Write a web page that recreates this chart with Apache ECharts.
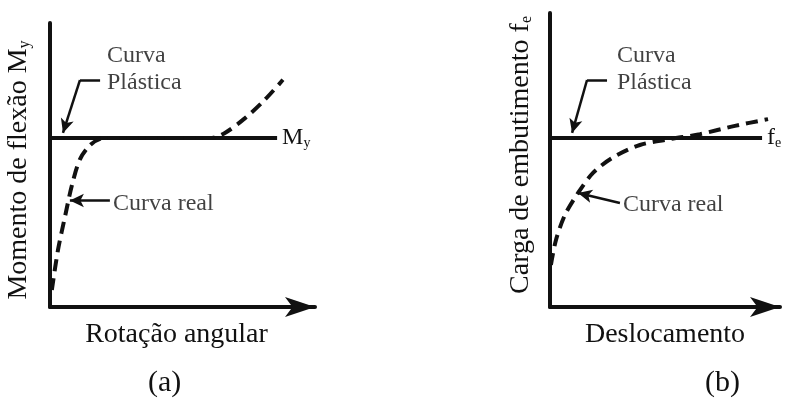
<!DOCTYPE html>
<html>
<head>
<meta charset="utf-8"/>
<title>Curva plástica x curva real</title>
<script src="https://cdn.jsdelivr.net/npm/echarts@6/dist/echarts.min.js"></script>
<style>
	body{ margin:0; padding:0; background:#fff; }
	#chart{ width:794px; height:400px; }
</style>
</head>
<body>
<div id="chart"></div>
<script type="text/javascript">
	// (a) momento x rotação
	var a_real_x = [0.7, 3.0, 5.7, 8.3, 11.3, 15.1, 18.9, 22.6, 60.4, 66.0, 73.6, 81.1, 87.9];
	var a_real_y = [6, 20, 32, 43, 52, 57, 59.2, 59.5, 59.5, 61.3, 66.5, 73, 80];
	var a_plast_x = [0, 85.7];
	var a_plast_y = [59.5, 59.5];

	// (b) carga x deslocamento
	var b_real_x = [0.4, 2.6, 6.5, 12.2, 18.7, 27.0, 39.1, 52.2, 65.2, 80.4, 94.8];
	var b_real_y = [14.3, 22.8, 31.3, 38.8, 45.6, 50.7, 55.1, 57.1, 58.8, 61.6, 63.9];
	var b_plast_x = [0, 92.2];
	var b_plast_y = [57.5, 57.5];

	// textos
	var titles = ['(a)', '(b)'];
	var x_names = ['Rotação angular', 'Deslocamento'];
	var y_names = ['Momento de flexão M{s|y}', 'Carga de embutimento f{s|e}'];
	var end_names = ['M{s|y}', 'f{s|e}'];

	var font = 'Liberation Serif';
	var ink = '#111';

	function pairs(xs, ys){
		var out = [];
		for(var i=0;i<xs.length;i++){
			out.push([xs[i], ys[i]]);
		}
		return out;
	}

	function xAxisOf(idx, name, pad){
		return {
			type:'value', gridIndex:idx, min:0, max:100,
			name:name, nameLocation:'middle', nameGap:14,
			nameTextStyle:{ fontFamily:font, fontSize:28, color:ink, verticalAlign:'top', padding:pad },
			axisLine:{ show:true, onZero:false, symbol:['none','arrow'], symbolSize:[15,30], lineStyle:{ color:ink, width:4 } },
			axisTick:{ show:false }, axisLabel:{ show:false }, splitLine:{ show:false }
		};
	}
	function yAxisOf(idx, name, gap, pad){
		return {
			type:'value', gridIndex:idx, min:0, max:100,
			name:name, nameLocation:'middle', nameGap:gap,
			nameTextStyle:{ fontFamily:font, fontSize:28, color:ink, padding:pad,
				rich:{ s:{ fontFamily:font, fontSize:16, color:ink, verticalAlign:'bottom' } } },
			axisLine:{ show:true, onZero:false, lineStyle:{ color:ink, width:4 } },
			axisTick:{ show:false }, axisLabel:{ show:false }, splitLine:{ show:false }
		};
	}

	// linha cheia (curva plástica)
	function plastSeries(idx, xs, ys, endName){
		return {
			type:'line', xAxisIndex:idx, yAxisIndex:idx, data:pairs(xs, ys),
			showSymbol:false, silent:true, animation:false,
			lineStyle:{ color:ink, width:4 },
			endLabel:{ show:true, formatter:endName, distance:5, fontFamily:font, fontSize:24, color:ink,
				rich:{ s:{ fontFamily:font, fontSize:14, color:ink, verticalAlign:'bottom' } } }
		};
	}
	// linha tracejada (curva real)
	function realSeries(idx, xs, ys){
		return {
			type:'line', xAxisIndex:idx, yAxisIndex:idx, data:pairs(xs, ys),
			showSymbol:false, silent:true, animation:false, smooth:0.3,
			lineStyle:{ color:ink, width:4, type:[12,7] }
		};
	}
	// textos e setas de anotação
	function noteSeries(idx, notes, arrows){
		var data = [];
		for(var i=0;i<notes.length;i++){
			data.push({ value:[notes[i][0], notes[i][1]], label:{ formatter:notes[i][2] } });
		}
		var lines = [];
		for(var j=0;j<arrows.length;j++){
			var a = arrows[j];
			lines.push([
				{ coord:[a[0], a[1]], symbol:'none' },
				{ coord:[a[2], a[3]], symbol:a[4] ? 'arrow' : 'none' }
			]);
		}
		return {
			type:'scatter', xAxisIndex:idx, yAxisIndex:idx, data:data,
			symbolSize:0, silent:true, animation:false,
			label:{ show:true, position:'right', distance:0, fontFamily:font, fontSize:24, color:ink, lineHeight:27, align:'left' },
			markLine:{
				silent:true, animation:false, symbolSize:[10,14],
				label:{ show:false },
				lineStyle:{ color:ink, width:2.5, type:'solid' },
				data:lines
			}
		};
	}

	var option = {
		backgroundColor:'#fff',
		title:[
			{ text:titles[0], left:148, top:368, padding:0, textStyle:{ fontFamily:font, fontSize:30, fontWeight:'normal', color:ink } },
			{ text:titles[1], left:705, top:368, padding:0, textStyle:{ fontFamily:font, fontSize:30, fontWeight:'normal', color:ink } }
		],
		grid:[
			{ left:50, top:23, width:265, height:284, outerBoundsMode:'none' },
			{ left:550, top:13, width:230, height:294, outerBoundsMode:'none' }
		],
		xAxis:[ xAxisOf(0, x_names[0], [0,12,0,0]), xAxisOf(1, x_names[1], 0) ],
		yAxis:[ yAxisOf(0, y_names[0], 17, [0,10,0,0]), yAxisOf(1, y_names[1], 15, [0,0,0,10]) ],
		series:[
			plastSeries(0, a_plast_x, a_plast_y, end_names[0]),
			realSeries(0, a_real_x, a_real_y),
			noteSeries(0,
				[[21.5, 83.6, 'Curva\nPlástica'], [23.8, 36.5, 'Curva real']],
				[[18.9, 79.9, 11.3, 79.9, false], [11.3, 79.9, 4.9, 61.3, true], [22.6, 37.5, 7.5, 37.5, true]]),
			plastSeries(1, b_plast_x, b_plast_y, end_names[1]),
			realSeries(1, b_real_x, b_real_y),
			noteSeries(1,
				[[29.1, 81, 'Curva\nPlástica'], [31.7, 34.7, 'Curva real']],
				[[24.8, 77.2, 16.1, 77.2, false], [16.1, 77.2, 9.6, 59.2, true], [30.4, 35.4, 12.2, 38.8, true]])
		]
	};

	var myChart = echarts.init(document.getElementById('chart'));
	myChart.setOption(option);
</script>
</body>
</html>
